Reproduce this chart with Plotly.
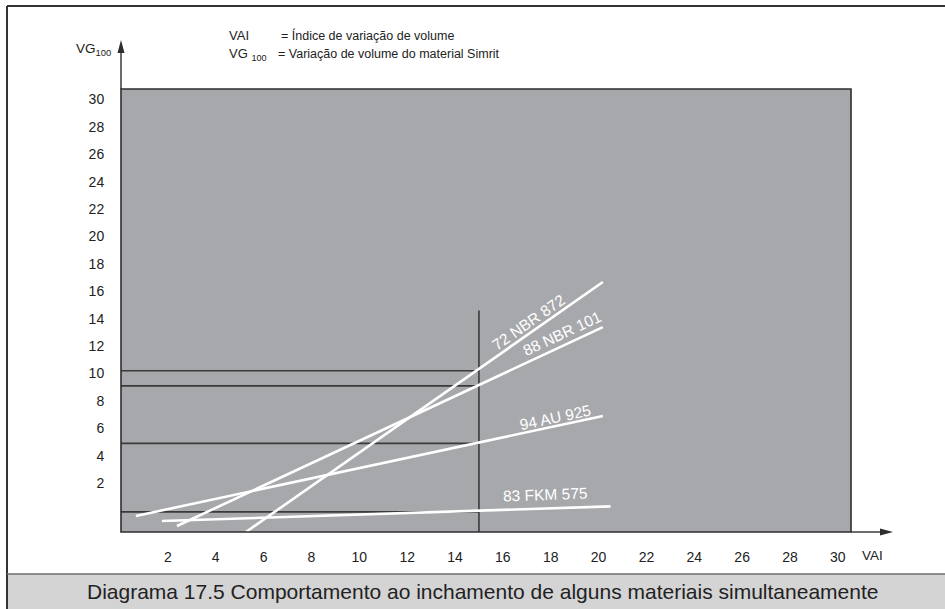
import plotly.graph_objects as go

# ---------------- data ----------------
x_ticks = [2, 4, 6, 8, 10, 12, 14, 16, 18, 20, 22, 24, 26, 28, 30]
y_ticks = [2, 4, 6, 8, 10, 12, 14, 16, 18, 20, 22, 24, 26, 28, 30]

series_names = ["72 NBR 872", "88 NBR 101", "94 AU 925", "83 FKM 575"]
nbr872_x = [5.26, 20.18]
nbr872_y = [-1.57, 16.68]
nbr101_x = [2.38, 20.18]
nbr101_y = [-1.13, 13.39]
au925_x = [0.66, 20.18]
au925_y = [-0.40, 6.90]
fkm575_x = [1.75, 20.50]
fkm575_y = [-0.77, 0.30]

# label anchor points and rotation
label_x = [17.05, 18.47, 18.17, 17.76]
label_y = [13.76, 12.90, 6.80, 1.20]
label_angle = [-35, -25, -12, -2]

# reading lines at VAI = 15
read_vai = 15
read_vai_top = 14.6
read_levels = [10.2, 9.1, 4.9, -0.1]

x_range = [0.04, 30.55]
y_range = [-1.57, 30.77]

# ---------------- layout geometry ----------------
W, H = 945, 609
L, R, T, B = 121, 851, 89, 532  # plot area in px


def px(xp):
    return (xp - L) / (R - L)


def py(yp):
    return (B - yp) / (B - T)


FONT_R = "Liberation Sans, Arial, sans-serif"
DARK = "#2e2e2e"

fig = go.Figure()

# reading lines (dark)
for lv in read_levels:
    fig.add_trace(go.Scatter(x=[x_range[0], read_vai], y=[lv, lv], mode="lines",
                             line=dict(color="#3a3a3a", width=1.6),
                             hoverinfo="skip", showlegend=False))
fig.add_trace(go.Scatter(x=[read_vai, read_vai], y=[y_range[0], read_vai_top], mode="lines",
                         line=dict(color="#3a3a3a", width=1.6),
                         hoverinfo="skip", showlegend=False))

# material lines (white)
for name, xs, ys in zip(series_names,
                        [nbr872_x, nbr101_x, au925_x, fkm575_x],
                        [nbr872_y, nbr101_y, au925_y, fkm575_y]):
    fig.add_trace(go.Scatter(x=xs, y=ys, mode="lines", name=name,
                             line=dict(color="white", width=2.6),
                             hoverinfo="skip", showlegend=False))

for name, lx, ly, ang in zip(series_names, label_x, label_y, label_angle):
    fig.add_annotation(x=lx, y=ly, text=name, textangle=ang, showarrow=False,
                       font=dict(family=FONT_R, size=15.5, color="white"))

shapes = []
# plot frame
shapes.append(dict(type="rect", xref="paper", yref="paper", x0=0, y0=0, x1=1, y1=1,
                   line=dict(color=DARK, width=1.6), layer="above"))
# outer frame: top + left
shapes.append(dict(type="line", xref="paper", yref="paper", x0=px(7), x1=px(945),
                   y0=py(6), y1=py(6), line=dict(color="#333333", width=2)))
shapes.append(dict(type="line", xref="paper", yref="paper", x0=px(7), x1=px(7),
                   y0=py(6), y1=py(609), line=dict(color="#333333", width=2)))
# caption band
shapes.append(dict(type="rect", xref="paper", yref="paper", x0=px(8), x1=px(946),
                   y0=py(574), y1=py(610), fillcolor="#d4d4d5", line=dict(width=0)))
shapes.append(dict(type="line", xref="paper", yref="paper", x0=px(7), x1=px(945),
                   y0=py(574), y1=py(574), line=dict(color="#6e6e6e", width=1.5)))
# y axis arrow
shapes.append(dict(type="line", xref="paper", yref="paper", x0=0, x1=0,
                   y0=1, y1=py(50), line=dict(color=DARK, width=1.4)))
shapes.append(dict(type="path", xref="paper", yref="paper",
                   path=f"M {px(121)} {py(40)} L {px(117.5)} {py(53)} L {px(124.5)} {py(53)} Z",
                   fillcolor=DARK, line=dict(width=0)))
# x axis arrow
shapes.append(dict(type="line", xref="paper", yref="paper", x0=1, x1=px(882),
                   y0=0, y1=0, line=dict(color=DARK, width=1.4)))
shapes.append(dict(type="path", xref="paper", yref="paper",
                   path=f"M {px(893)} {py(532)} L {px(880)} {py(528.5)} L {px(880)} {py(535.5)} Z",
                   fillcolor=DARK, line=dict(width=0)))


def txt(xp, yp, s, size=14, anchor="left", family=FONT_R, color="#222222"):
    fig.add_annotation(xref="paper", yref="paper", x=px(xp), y=py(yp), text=s,
                       showarrow=False, xanchor=anchor, yanchor="middle",
                       font=dict(family=family, size=size, color=color))


txt(227, 35, "VAI", size=13)
txt(279, 35, "= Índice de variação de volume", size=12.5)
txt(227, 54, "VG <sub>100</sub>", size=13)
txt(276, 54, "= Variação de volume do material Simrit", size=12.5)
txt(113, 50, "VG<sub>100</sub>", anchor="right", size=13.5)
txt(860, 555, "VAI", size=13.5)
txt(482, 591, "Diagrama 17.5 Comportamento ao inchamento de alguns materiais simultaneamente",
    size=21, anchor="center")

fig.update_layout(
    width=W, height=H,
    margin=dict(l=L, r=W - R, t=T, b=H - B),
    paper_bgcolor="white", plot_bgcolor="#a7a8ac",
    shapes=shapes,
    xaxis=dict(range=x_range, tickvals=x_ticks, ticktext=[str(v) for v in x_ticks],
               showgrid=False, zeroline=False, showline=False,
               ticks="outside", ticklen=12, tickcolor="rgba(0,0,0,0)",
               tickfont=dict(family=FONT_R, size=14, color="#222222")),
    yaxis=dict(range=y_range, tickvals=y_ticks, ticktext=[str(v) for v in y_ticks],
               showgrid=False, zeroline=False, showline=False,
               ticks="outside", ticklen=13, tickcolor="rgba(0,0,0,0)",
               tickfont=dict(family=FONT_R, size=14, color="#222222")),
    showlegend=False,
)

fig.write_html("out.html",
               config={"displayModeBar": False},
               post_script="document.body.style.margin='0';document.body.style.padding='0';"
                           "document.body.style.overflow='hidden';")
